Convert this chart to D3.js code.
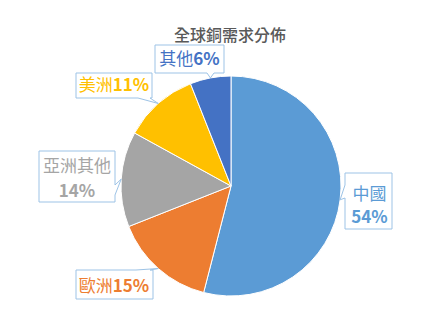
<!DOCTYPE html>
<html>
<head>
<meta charset="utf-8">
<script src="https://cdn.jsdelivr.net/npm/d3@7"></script>
<style>
  body { margin: 0; background: #fff; }
</style>
</head>
<body>
<div id="chart"></div>
<script>
var title = "全球銅需求分佈";
var categories = ["中國", "歐洲", "亞洲其他", "美洲", "其他"];
var values = [54, 15, 14, 11, 6];

var colors = ["#5B9BD5", "#ED7D31", "#A5A5A5", "#FFC000", "#4472C4"];

// label boxes: [x0, y0, x1, y1], side of pointer, pointer base, text lines
var boxes = [
    {box: [345, 173, 392, 229], side: "left", base: [185, 198], x: 369.5, lines: [200, 223], split: true},
    {box: [76, 270, 153, 299], side: "top", base: [136, 150], x: 114, lines: [292], split: false},
    {box: [39, 151, 115, 202], side: "right", base: [185, 195], x: 77, lines: [172, 197], split: true},
    {box: [76, 73, 152, 98], side: "bottom", base: [138, 150], x: 114, lines: [91], split: false},
    {box: [155, 45, 224, 73], side: "bottom", base: [207, 214], x: 189.5, lines: [65], split: false}
];

var width = 437,
    height = 317,
    cx = 231,
    cy = 186,
    radius = 110;

var svg = d3.select("#chart")
    .append("svg")
    .attr("width", width)
    .attr("height", height);

svg.append("text")
    .attr("x", 230)
    .attr("y", 41)
    .attr("text-anchor", "middle")
    .style("font", "500 16px 'Noto Sans CJK TC'")
    .attr("fill", "#595959")
    .text(title);

var pie = d3.pie().sort(null).value(d => d)(values);

var arc = d3.arc()
    .innerRadius(0)
    .outerRadius(radius);

var g = svg.append("g")
    .attr("transform", "translate(" + cx + "," + cy + ")");

g.selectAll("path")
    .data(pie)
    .join("path")
    .attr("d", arc)
    .attr("fill", (d, i) => colors[i])
    .attr("stroke", "#fff")
    .attr("stroke-width", 1);

function calloutPath(b, tip) {
    var x0 = b.box[0], y0 = b.box[1], x1 = b.box[2], y1 = b.box[3],
        p0 = b.base[0], p1 = b.base[1], pts;
    if (b.side == "top") {
        pts = [[x0, y0], [p0, y0], tip, [p1, y0], [x1, y0], [x1, y1], [x0, y1]];
    } else if (b.side == "right") {
        pts = [[x0, y0], [x1, y0], [x1, p0], tip, [x1, p1], [x1, y1], [x0, y1]];
    } else if (b.side == "bottom") {
        pts = [[x0, y0], [x1, y0], [x1, y1], [p1, y1], tip, [p0, y1], [x0, y1]];
    } else {
        pts = [[x0, y0], [x1, y0], [x1, y1], [x0, y1], [x0, p1], tip, [x0, p0]];
    }
    return "M" + pts.map(p => p[0] + "," + p[1]).join("L") + "Z";
}

var labels = svg.append("g");

pie.forEach(function (d, i) {
    var b = boxes[i],
        a = (d.startAngle + d.endAngle) / 2,
        tip = [cx + radius * Math.sin(a), cy - radius * Math.cos(a)];

    labels.append("path")
        .attr("d", calloutPath(b, tip))
        .attr("fill", "#fff")
        .attr("stroke", "#9DC3E6")
        .attr("stroke-width", 1);

    var parts = [[categories[i], "normal"], [values[i] + "%", "bold"]];
    var lines = b.split ? [[parts[0]], [parts[1]]] : [parts];
    lines.forEach(function (line, k) {
        var t = labels.append("text")
            .attr("x", b.x)
            .attr("y", b.lines[k])
            .attr("text-anchor", "middle")
            .style("font-family", "'Noto Sans CJK TC'")
            .style("font-size", "17px")
            .attr("fill", colors[i]);
        line.forEach(function (p) {
            t.append("tspan")
                .style("font-weight", p[1])
                .text(p[0]);
        });
    });
});
</script>
</body>
</html>
